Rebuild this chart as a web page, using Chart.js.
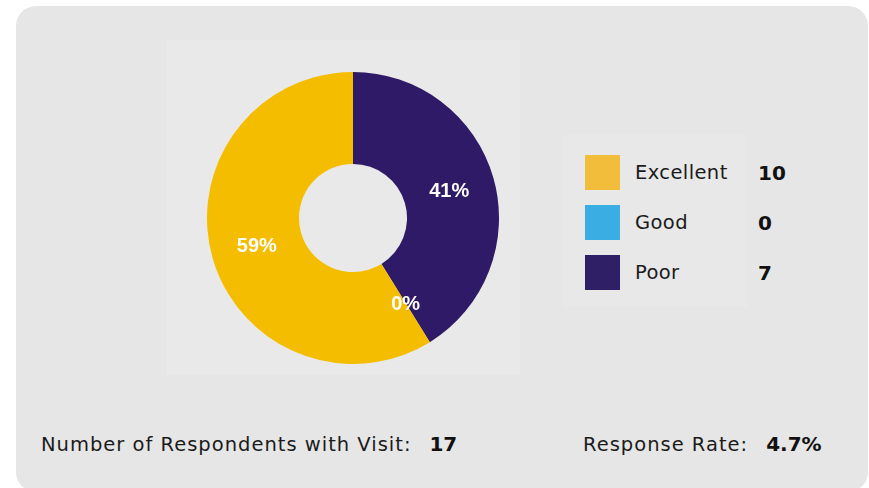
<!DOCTYPE html>
<html>
<head>
<meta charset="utf-8">
<script src="https://cdn.jsdelivr.net/npm/chart.js@4.4.1/dist/chart.umd.min.js"></script>
<style>
  html, body { margin: 0; padding: 0; background: #ffffff; width: 869px; height: 488px; overflow: hidden; }
  .card { position: absolute; left: 16px; top: 6px; width: 852px; height: 486px; background: #e6e6e6; border-radius: 20px; }
  .pane { position: absolute; background: #e9e9e9; }
  .chart-box { position: absolute; left: 207px; top: 72px; width: 292px; height: 292px; }
  .legend { position: absolute; left: 585px; top: 155px; font-family: "DejaVu Sans", sans-serif; }
  .row { position: absolute; left: 0; height: 35px; width: 240px; }
  .sw { position: absolute; left: 0; top: 0; width: 35px; height: 35px; }
  .lab { position: absolute; left: 50px; top: 0; line-height: 35px; font-size: 19.5px; letter-spacing: 0.4px; color: #1b1b1b; }
  .val { position: absolute; left: 173px; top: 1px; line-height: 35px; font-size: 20px; font-weight: bold; color: #111; }
  .foot { position: absolute; top: 429px; font-family: "DejaVu Sans", sans-serif; font-size: 19.5px; letter-spacing: 1px; color: #1b1b1b; line-height: 30px; white-space: nowrap; }
  .foot b { font-size: 20px; letter-spacing: 0; margin-left: 18px; color: #111; }
</style>
</head>
<body>
<div class="card"></div>
<div class="pane" style="left:167px; top:40px; width:353px; height:335px;"></div>
<div class="pane" style="left:562px; top:135px; width:185px; height:172px; background:#e8e8e8;"></div>
<div class="chart-box"><canvas id="donut"></canvas></div>
<div class="legend" id="legend"></div>
<div class="foot" style="left:41px;">Number of Respondents with Visit:<b id="resp"></b></div>
<div class="foot" style="left:583px;">Response Rate:<b id="rate"></b></div>

<script>
// Rating categories and respondent counts
const categories = ['Excellent', 'Good', 'Poor'];
const counts = [10, 0, 7];
const sliceColors = ['#f5bd00', '#3aaee2', '#2e1a66'];
const legendColors = ['#f3bd3c', '#3aaee2', '#2e1f66'];
const respondents = 17;
const responseRate = '4.7%';

// Legend with counts
const legend = document.getElementById('legend');
categories.forEach((name, i) => {
  const row = document.createElement('div');
  row.className = 'row';
  row.style.top = (i * 50) + 'px';
  row.innerHTML = '<div class="sw" style="background:' + legendColors[i] + '"></div>' +
    '<div class="lab">' + name + '</div><div class="val">' + counts[i] + '</div>';
  legend.appendChild(row);
});
document.getElementById('resp').textContent = respondents;
document.getElementById('rate').textContent = responseRate;

// Slices run clockwise from the top: Poor, Good, then Excellent
const order = [2, 1, 0];
const total = counts.reduce((a, b) => a + b, 0);

// Percentage text in the middle of each ring segment
const percentLabels = {
  id: 'percentLabels',
  afterDatasetsDraw(chart) {
    const ctx = chart.ctx;
    const meta = chart.getDatasetMeta(0);
    const data = chart.data.datasets[0].data;
    ctx.save();
    ctx.fillStyle = '#ffffff';
    ctx.font = 'bold 20px "Liberation Sans", Arial, sans-serif';
    ctx.textAlign = 'center';
    ctx.textBaseline = 'middle';
    meta.data.forEach((arc, i) => {
      const p = arc.getProps(['x', 'y', 'startAngle', 'endAngle', 'innerRadius', 'outerRadius'], true);
      const mid = (p.startAngle + p.endAngle) / 2;
      const r = (p.innerRadius + p.outerRadius) / 2;
      const pct = Math.round(data[i] / total * 100) + '%';
      ctx.fillText(pct, p.x + Math.cos(mid) * r, p.y + Math.sin(mid) * r + 1);
    });
    ctx.restore();
  }
};

new Chart(document.getElementById('donut'), {
  type: 'doughnut',
  data: {
    labels: order.map(i => categories[i]),
    datasets: [{
      data: order.map(i => counts[i]),
      backgroundColor: order.map(i => sliceColors[i]),
      borderWidth: 0
    }]
  },
  options: {
    responsive: true,
    maintainAspectRatio: false,
    animation: false,
    cutout: '37%',
    layout: { padding: 0 },
    plugins: { legend: { display: false }, tooltip: { enabled: false } },
    events: []
  },
  plugins: [percentLabels]
});
</script>
</body>
</html>
